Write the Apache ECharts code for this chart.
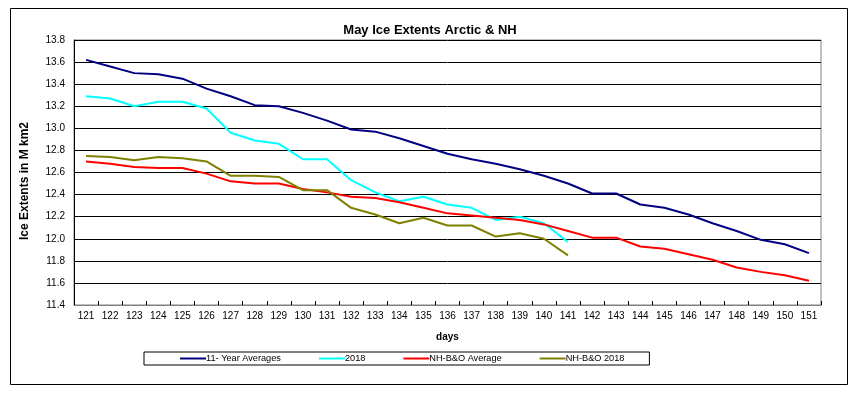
<!DOCTYPE html>
<html><head><meta charset="utf-8">
<script src="https://cdn.jsdelivr.net/npm/echarts@6/dist/echarts.min.js"></script>
<style>html,body{margin:0;padding:0;background:#fff}#c{width:860px;height:395px}</style>
</head><body><div id="c"></div>
<script>
const days = [121,122,123,124,125,126,127,128,129,130,131,132,133,134,135,136,137,138,139,140,141,142,143,144,145,146,147,148,149,150,151];
const avg11 = [13.62,13.56,13.50,13.49,13.45,13.36,13.29,13.21,13.20,13.14,13.07,12.99,12.97,12.91,12.84,12.77,12.72,12.68,12.63,12.57,12.50,12.41,12.41,12.31,12.28,12.22,12.14,12.07,11.99,11.95,11.87];
const y2018 = [13.29,13.27,13.20,13.24,13.24,13.18,12.96,12.89,12.86,12.72,12.72,12.53,12.42,12.34,12.38,12.31,12.28,12.17,12.20,12.14,11.97];
const nhAvg = [12.70,12.68,12.65,12.64,12.64,12.59,12.52,12.50,12.50,12.45,12.42,12.38,12.37,12.33,12.28,12.23,12.21,12.19,12.17,12.13,12.07,12.01,12.01,11.93,11.91,11.86,11.81,11.74,11.70,11.67,11.62];
const nh2018 = [12.75,12.74,12.71,12.74,12.73,12.70,12.57,12.57,12.56,12.44,12.44,12.28,12.22,12.14,12.19,12.12,12.12,12.02,12.05,12.00,11.85];
const yTicks = ['11.4','11.6','11.8','12.0','12.2','12.4','12.6','12.8','13.0','13.2','13.4','13.6','13.8'];

const chart = echarts.init(document.getElementById('c'), null, {renderer:'canvas'});
const font = 'Liberation Sans, Arial, sans-serif';
function ser(name, data, color){
  return {name, type:'line', data, symbol:'none', showSymbol:false, smooth:false,
    lineStyle:{color, width:2}, itemStyle:{color}, animation:false};
}
chart.setOption({
  animation:false,
  textStyle:{fontFamily:font},
  title:{text:'May Ice Extents Arctic & NH', left:'center', top:19,
    textStyle:{fontFamily:font, fontSize:13, fontWeight:'bold', color:'#000'}},
  graphic:[
    {type:'rect', shape:{x:10.5, y:8.5, width:837, height:376}, style:{fill:null, stroke:'#000', lineWidth:1}, silent:true},
    {type:'text', x:25, y:181, rotation:Math.PI/2, silent:true,
      style:{text:'Ice Extents in M km2', fontFamily:font, fontSize:12, fontWeight:'bold', fill:'#000', align:'center', verticalAlign:'middle'}}
  ],
  grid:{left:74, right:39, top:40, bottom:90, show:true, borderColor:'#808080', borderWidth:1, containLabel:false},
  legend:{left:144, top:352, itemWidth:26, itemHeight:2, itemGap:38,
    padding:[2,25,2,36], borderColor:'#000', borderWidth:1,
    icon:'rect',
    textStyle:{fontFamily:font, fontSize:9.2, color:'#000', padding:[0,0,0,-5]},
    data:['11- Year Averages','2018','NH-B&O Average','NH-B&O 2018']},
  xAxis:{type:'category', data:days, boundaryGap:true, name:'days', nameLocation:'middle', nameGap:27,
    nameTextStyle:{fontFamily:font, fontSize:10, fontWeight:'bold', color:'#000'},
    axisLine:{lineStyle:{color:'#808080', width:1}},
    axisTick:{show:true, inside:true, length:4, alignWithLabel:false, lineStyle:{color:'#000'}},
    axisLabel:{fontFamily:font, fontSize:10, color:'#000', margin:6, interval:0},
    splitLine:{show:false}},
  yAxis:{type:'value', min:11.4, max:13.8, interval:0.2,
    axisLine:{show:true, lineStyle:{color:'#000', width:1}},
    axisTick:{show:false},
    axisLabel:{fontFamily:font, fontSize:10, color:'#000', margin:9,
      formatter:function(v){ const s=v.toFixed(1); return yTicks.indexOf(s)>=0 ? s : ''; }},
    splitLine:{show:true, lineStyle:{color:'#000', width:1}}},
  series:[
    ser('11- Year Averages', avg11, '#000080'),
    ser('2018', y2018, '#00FFFF'),
    ser('NH-B&O Average', nhAvg, '#FF0000'),
    ser('NH-B&O 2018', nh2018, '#808000')
  ]
});
</script></body></html>
